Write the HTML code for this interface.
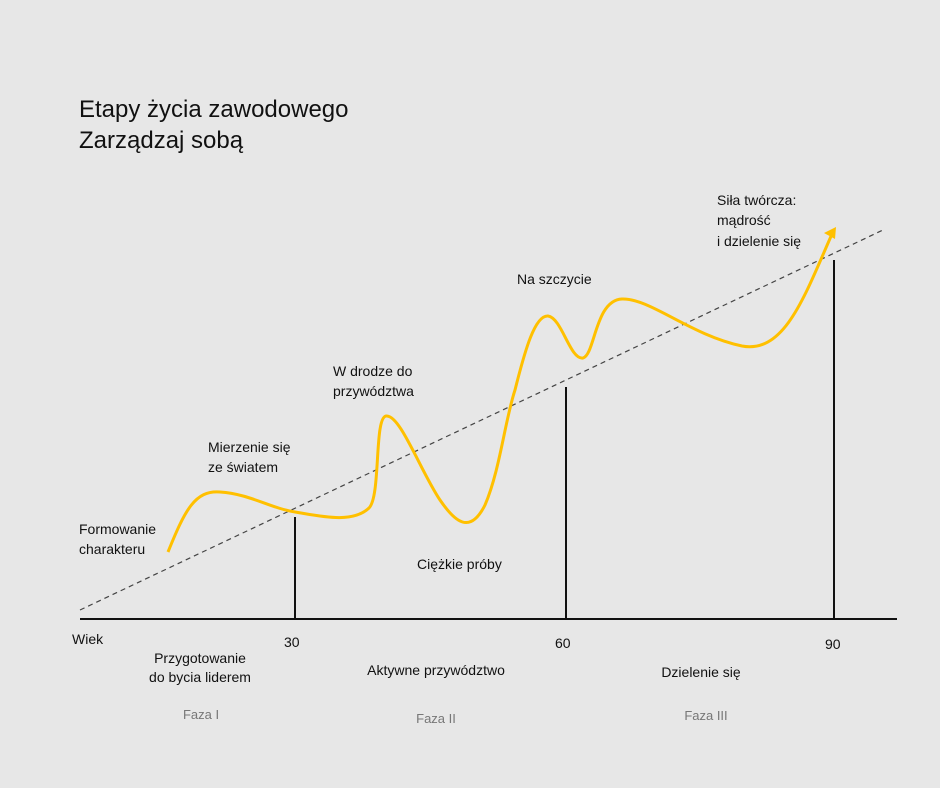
<!DOCTYPE html>
<html><head><meta charset="utf-8"><style>
body{margin:0;background:#e7e7e7;}
svg{display:block;font-family:"Liberation Sans",sans-serif;}
</style></head><body>
<svg width="940" height="788" viewBox="0 0 940 788">
<rect width="940" height="788" fill="#e7e7e7"/>
<text x="79" y="117" font-size="24" fill="#111">Etapy życia zawodowego</text>
<text x="79" y="148" font-size="24" fill="#111">Zarządzaj sobą</text>
<line x1="80" y1="610" x2="883" y2="230" stroke="#444" stroke-width="1.2" stroke-dasharray="5,4"/>
<line x1="80" y1="619" x2="897" y2="619" stroke="#111" stroke-width="2"/>
<line x1="295" y1="517" x2="295" y2="619" stroke="#111" stroke-width="2"/>
<line x1="566" y1="387" x2="566" y2="619" stroke="#111" stroke-width="2"/>
<line x1="834" y1="260" x2="834" y2="619" stroke="#111" stroke-width="2"/>
<path d="M168,552 C185,510 195,490 220,492 C250,494 270,508 295,512 C320,516 352,524 369,508 C381,496 374,418 386,416 C400,414 420,470 440,500 C455,522 470,535 485,505 C500,470 505,420 515,390 C525,350 535,315 548,316 C562,318 570,360 583,358 C595,355 595,300 622,299 C650,298 690,335 742,346 C785,354 805,295 832,234" fill="none" stroke="#ffc000" stroke-width="3"/>
<path d="M836,227 L824,233 L835,239 Z" fill="#ffc000"/>
<g font-size="14" fill="#111">
<text x="79" y="534">Formowanie</text>
<text x="79" y="554">charakteru</text>
<text x="208" y="452">Mierzenie się</text>
<text x="208" y="472">ze światem</text>
<text x="333" y="376">W drodze do</text>
<text x="333" y="396">przywództwa</text>
<text x="517" y="284">Na szczycie</text>
<text x="717" y="205">Siła twórcza:</text>
<text x="717" y="225">mądrość</text>
<text x="717" y="246">i dzielenie się</text>
<text x="417" y="569">Ciężkie próby</text>
<text x="72" y="644">Wiek</text>
<text x="284" y="647">30</text>
<text x="555" y="648">60</text>
<text x="825" y="649">90</text>
<text x="200" y="663" text-anchor="middle">Przygotowanie</text>
<text x="200" y="682" text-anchor="middle">do bycia liderem</text>
<text x="436" y="675" text-anchor="middle">Aktywne przywództwo</text>
<text x="701" y="677" text-anchor="middle">Dzielenie się</text>
</g>
<g font-size="13" fill="#777" text-anchor="middle">
<text x="201" y="719">Faza I</text>
<text x="436" y="723">Faza II</text>
<text x="706" y="720">Faza III</text>
</g>
</svg>
</body></html>
